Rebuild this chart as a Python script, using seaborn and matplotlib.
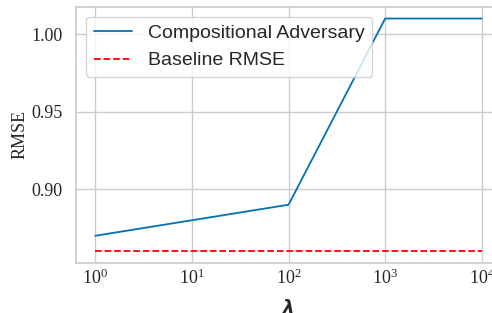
import numpy as np
import pandas as pd
import matplotlib
matplotlib.use("Agg")
import matplotlib.pyplot as plt
from matplotlib.ticker import MultipleLocator
import seaborn as sns

# data
lambdas = [1, 100, 1000, 10000]
rmse_adv = [0.87, 0.89, 1.01, 1.01]
baseline_rmse = 0.86

sns.set_theme(style="whitegrid", palette="colorblind")
plt.rcParams['font.family'] = ['Liberation Serif', 'DejaVu Serif']
plt.rcParams['mathtext.fontset'] = 'custom'
plt.rcParams['mathtext.rm'] = 'Liberation Serif'
plt.rcParams['mathtext.it'] = 'Liberation Serif:italic'

df = pd.DataFrame({'lambda': lambdas, 'RMSE': rmse_adv})

fig = plt.figure(figsize=(4.92, 3.13), dpi=100)
ax = fig.add_axes([0.1545, 0.16, 0.864, 0.818])

sns.lineplot(data=df, x='lambda', y='RMSE', ax=ax, label='Compositional Adversary',
             linewidth=1.3)
ax.plot([lambdas[0], lambdas[-1]], [baseline_rmse, baseline_rmse], color='red',
        linestyle='--', linewidth=1.3, label='Baseline RMSE')
ax.set_xscale('log')
ax.minorticks_off()
ax.yaxis.set_major_locator(MultipleLocator(0.05))

ax.set_xlabel('λ', family='DejaVu Sans', fontstyle='italic', fontweight='bold',
              fontsize=13, labelpad=8)
ax.set_ylabel('RMSE', fontsize=13, labelpad=2)
ax.tick_params(labelsize=13)
ax.tick_params(axis='x', pad=-2)

ax.legend(loc='upper left', prop={'family': 'Liberation Sans', 'size': 14})

fig.savefig('out.png', dpi=100)
